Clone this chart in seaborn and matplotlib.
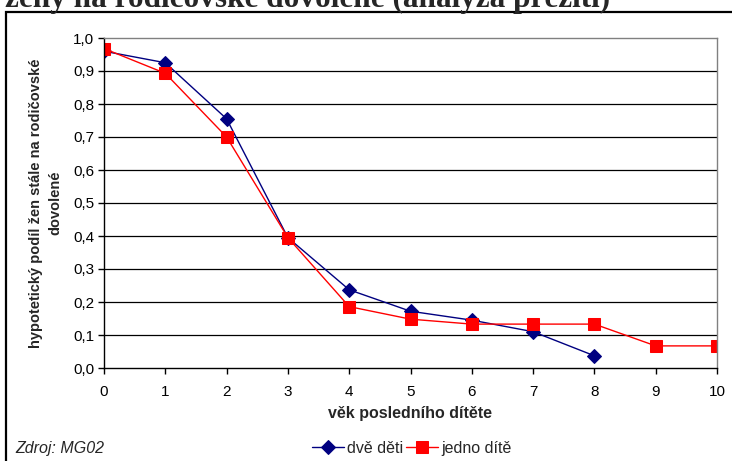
import matplotlib
matplotlib.use("Agg")
import matplotlib.pyplot as plt
import matplotlib.ticker as mticker
import seaborn as sns
import pandas as pd

# Data
vek_dve = [0, 1, 2, 3, 4, 5, 6, 7, 8]
dve_deti = [0.960, 0.925, 0.755, 0.395, 0.237, 0.172, 0.145, 0.110, 0.037]
vek_jedno = [0, 1, 2, 3, 4, 5, 6, 7, 8, 9, 10]
jedno_dite = [0.968, 0.893, 0.700, 0.395, 0.186, 0.148, 0.133, 0.133, 0.133, 0.067, 0.067]

df = pd.concat([
    pd.DataFrame({"vek": vek_dve, "podil": dve_deti, "skupina": "dvě děti"}),
    pd.DataFrame({"vek": vek_jedno, "podil": jedno_dite, "skupina": "jedno dítě"}),
])

sns.set_theme(style="white")
plt.rcParams["font.family"] = ["Liberation Sans", "DejaVu Sans"]

fig = plt.figure(figsize=(7.32, 4.61), dpi=100)
ax = fig.add_axes([104 / 732, 1 - 368 / 461, 613 / 732, 330 / 461])

barvy = {"dvě děti": "#000080", "jedno dítě": "#FF0000"}
znacky = {"dvě děti": "D", "jedno dítě": "s"}
velikosti = {"dvě děti": 7, "jedno dítě": 9}
for skupina in ["dvě děti", "jedno dítě"]:
    sub = df[df["skupina"] == skupina]
    sns.lineplot(data=sub, x="vek", y="podil", ax=ax, color=barvy[skupina],
                 marker=znacky[skupina], markersize=velikosti[skupina],
                 markeredgecolor=barvy[skupina], linewidth=1, label=skupina)

ax.set_xlim(0, 10)
ax.set_ylim(0, 1.0)
ax.xaxis.set_major_locator(mticker.MultipleLocator(1))
ax.yaxis.set_major_locator(mticker.MultipleLocator(0.1))
ax.yaxis.set_major_formatter(mticker.FuncFormatter(lambda v, p: f"{v:.1f}".replace(".", ",")))

# Horizontal black gridlines
for yv in [i / 10 for i in range(1, 10)]:
    ax.axhline(yv, color="black", linewidth=0.9, zorder=0)

for s in ["top", "right"]:
    ax.spines[s].set_color("#808080")
    ax.spines[s].set_linewidth(1)
for s in ["left", "bottom"]:
    ax.spines[s].set_color("black")
    ax.spines[s].set_linewidth(1)

ax.tick_params(axis="both", which="major", direction="out", length=4, width=1,
               color="black", labelsize=11, colors="black", left=True, bottom=True)
ax.tick_params(axis="x", pad=8)
ax.tick_params(axis="y", pad=3)

ax.set_xlabel("věk posledního dítěte", fontsize=11.5, fontweight="bold", labelpad=5)
ax.set_ylabel("hypotetický podíl žen stále na rodičovské\ndovolené", fontsize=10.5,
              fontweight="bold", labelpad=8, linespacing=1.5)

ax.legend(loc="center", bbox_to_anchor=(412 / 732, 1 - 448 / 461),
          bbox_transform=fig.transFigure, ncol=2, frameon=False, fontsize=11.5,
          handlelength=2.0, columnspacing=0.2, handletextpad=0.2, borderpad=0)

fig.text(15 / 732, 1 - 448 / 461, "Zdroj: MG02", fontsize=11.5, style="italic",
         va="center", ha="left")

# Outer border of the chart
fig.patches.append(plt.Rectangle((6 / 732, -0.05), 1.0, 1 - 12 / 461 + 0.05,
                                 transform=fig.transFigure, fill=False,
                                 edgecolor="black", linewidth=1.6))

# Title, cut off by the top edge as in the source
fig.text(610 / 732, 1 - 7 / 461, "ženy na rodičovské dovolené (analýza přežití)",
         fontsize=22.5, fontweight="bold", family="Liberation Serif",
         ha="right", va="baseline")

fig.savefig("out.png", dpi=100)
